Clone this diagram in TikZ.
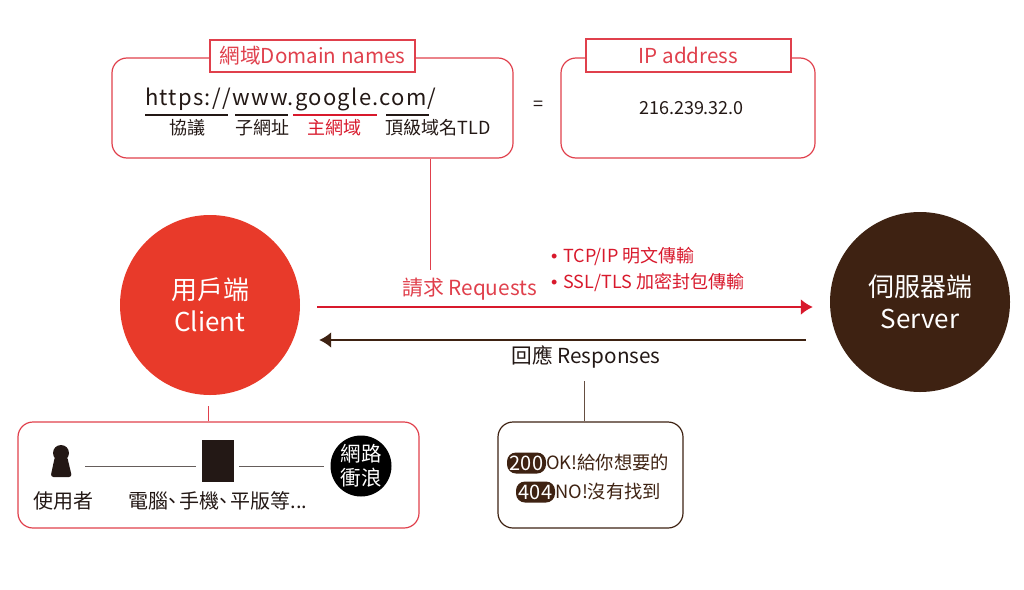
\documentclass[tikz,border=0pt]{standalone}
\usepackage{fontspec}
\setmainfont{Noto Sans CJK TC}
\newfontfamily\bulfont{Liberation Sans}
\usetikzlibrary{arrows.meta}
\definecolor{boxred}{HTML}{E0404C}
\definecolor{txtred}{HTML}{D8192C}
\definecolor{cirred}{HTML}{E83A2A}
\definecolor{brn}{HTML}{3E2212}
\definecolor{ink}{HTML}{231815}
\newcommand{\bul}{\hbox to 12pt{\bulfont •\hss}}
\newcommand{\dun}{\kern-6pt、\kern-3pt}
\tikzset{
	rbox/.style={draw=boxred,line width=1.2pt,rounded corners=15pt,inner sep=0pt},
	tbox/.style={draw=boxred,line width=1.2pt,fill=white,text=boxred,inner sep=0pt,font=\fontsize{20.6}{21}\selectfont},
	bigc/.style={circle,minimum size=180pt,inner sep=0pt,text=white,align=center,font=\fontsize{26}{32}\selectfont},
	txt/.style={inner sep=0pt,text=ink,font=\fontsize{18}{18}\selectfont},
	pill/.style={fill=brn,text=white,rounded corners=9pt,inner sep=0pt,minimum width=39pt,minimum height=21pt,font=\fontsize{20}{20}\selectfont},
}
\begin{document}
\begin{tikzpicture}[x=1pt,y=-1pt,>={Latex[length=12pt,width=16pt]}]
	\useasboundingbox (0,0) rectangle (1024,589);
	% top boxes
	\node[rbox,minimum width=401pt,minimum height=100pt] (dom) at (312.5,108) {};
	\node[tbox,minimum width=205pt,minimum height=32pt] (domt) at (312.5,56) {網域Domain names};
	\node[rbox,minimum width=254pt,minimum height=100pt] (ip) at (688,108) {};
	\node[tbox,minimum width=205pt,minimum height=33pt] (ipt) at (688.5,55.5) {IP address};
	\node[txt] (eq) at (538,106) {=};
	\node[txt] (ipn) at (691.5,108) {216.239.32.0};
	\node[anchor=base west,inner sep=0pt,text=ink,font=\fontsize{22}{22}\selectfont\addfontfeature{LetterSpace=5.8}] (url) at (145,105) {https://www.google.com/};
	\draw[ink,line width=2.2pt] (145,115) -- (228,115) (235,115) -- (288,115) (386,115) -- (429,115);
	\draw[txtred,line width=2.2pt] (293,115) -- (377,115);
	\node[txt] (pa) at (187,128) {協議};
	\node[txt] (pb) at (262,128) {子網址};
	\node[txt,text=txtred] (pc) at (334,128) {主網域};
	\node[txt] (pd) at (438,128) {頂級域名TLD};
	% client and server
	\node[bigc,fill=cirred] (cli) at (210,305) {用戶端\\Client};
	\node[bigc,fill=brn] (srv) at (920,302) {伺服器端\\Server};
	\draw[->,txtred,line width=2pt,shorten <=17pt,shorten >=17pt] (cli.east |- 0,307) -- (srv.west |- 0,307);
	\draw[->,brn,line width=2pt,shorten <=24pt,shorten >=19pt] (srv.west |- 0,340) -- (cli.east |- 0,340);
	\node[txt,text=boxred,font=\fontsize{20.8}{21}\selectfont] (req) at (469.5,289) {請求 Requests};
	\node[txt,text=txtred,anchor=west] (ta) at (551,256) {\bul TCP/IP 明文傳輸};
	\node[txt,text=txtred,anchor=west] (tb) at (551,282) {\bul SSL/TLS 加密封包傳輸};
	\node[txt,font=\fontsize{20.7}{21}\selectfont] (res) at (586,357) {回應 Responses};
	\draw[boxred,line width=1pt] (dom.south -| 430,0) -- (430,270);
	% bottom boxes
	\node[rbox,minimum width=401pt,minimum height=106pt] (usrb) at (218.5,475) {};
	\node[rbox,draw=brn,minimum width=185pt,minimum height=106pt] (resb) at (590.5,475) {};
	\draw[boxred,line width=1pt] (cli.south -| 208,0) ++(0,11) -- (usrb.north -| 208,0);
	\draw[brn!80,line width=1pt] (res.south -| 584,0) ++(0,13) -- (resb.north -| 584,0);
	\coordinate (usr) at (61,466);
	\fill[ink] (61,453) circle (8pt);
	\fill[ink,rounded corners=3pt] (55,456) -- (67,456) -- (72,477) -- (50.5,477) -- cycle;
	\node[fill=ink,minimum width=32pt,minimum height=42pt,inner sep=0pt] (dev) at (218,461) {};
	\node[circle,fill=black,text=white,minimum size=61pt,inner sep=0pt,align=center,font=\fontsize{20.5}{24}\selectfont] (web) at (361,466) {網路\\衝浪};
	\draw[ink!70,line width=1pt,shorten <=24pt,shorten >=6pt] (usr) -- (dev.west |- usr);
	\draw[ink!70,line width=1pt,shorten <=5pt,shorten >=6pt] (dev.east |- web) -- (web);
	\node[txt,font=\fontsize{20}{20}\selectfont] (ua) at (63,501) {使用者};
	\node[txt,font=\fontsize{20}{20}\selectfont] (ub) at (218,501) {電腦\dun 手機\dun 平版等...};
	\node[pill] (oka) at (526.5,463) {200};
	\node[txt,text=brn,anchor=west,font=\fontsize{18.3}{18}\selectfont] (okb) at (546,463) {OK!給你想要的};
	\node[pill] (noa) at (535.5,492) {404};
	\node[txt,text=brn,anchor=west,font=\fontsize{18.3}{18}\selectfont] (nob) at (555,492) {NO!沒有找到};
\end{tikzpicture}
\end{document}
